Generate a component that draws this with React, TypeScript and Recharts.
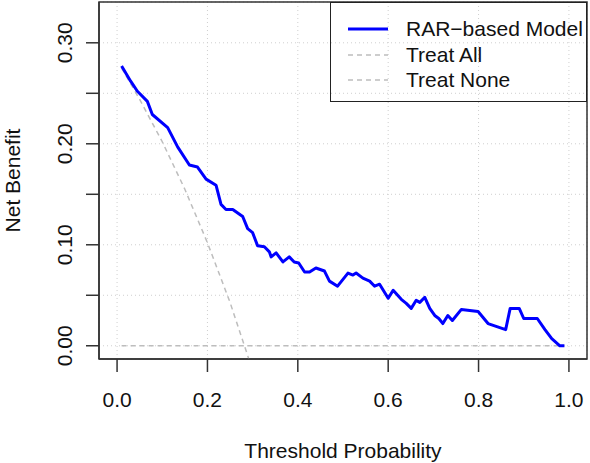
import React from 'react';
import { LineChart, Line, XAxis, YAxis, CartesianGrid, ReferenceArea, Label } from 'recharts';

// decision curve: RAR-based model vs. reference strategies
const modelThreshold = [
  0.01, 0.03, 0.045, 0.067, 0.078, 0.112, 0.134, 0.16, 0.178, 0.197, 0.219, 0.23, 0.241,
  0.256, 0.278, 0.289, 0.3, 0.311, 0.326, 0.337, 0.341, 0.352, 0.367, 0.381, 0.392, 0.402,
  0.415, 0.426, 0.44, 0.459, 0.47, 0.488, 0.511, 0.522, 0.529, 0.544, 0.559, 0.57, 0.581,
  0.6, 0.611, 0.629, 0.64, 0.651, 0.662, 0.67, 0.681, 0.692, 0.703, 0.712, 0.721, 0.732,
  0.742, 0.762, 0.799, 0.821, 0.86, 0.87, 0.89, 0.9, 0.93, 0.947, 0.962, 0.98, 0.99,
];
const modelNetBenefit = [
  0.277, 0.262, 0.252, 0.242, 0.229, 0.216, 0.197, 0.179, 0.177, 0.165, 0.159, 0.14, 0.135,
  0.135, 0.128, 0.116, 0.112, 0.099, 0.098, 0.093, 0.088, 0.092, 0.083, 0.088, 0.083, 0.082,
  0.073, 0.073, 0.077, 0.074, 0.064, 0.059, 0.072, 0.07, 0.072, 0.067, 0.064, 0.059, 0.061,
  0.047, 0.055, 0.046, 0.042, 0.037, 0.045, 0.043, 0.048, 0.037, 0.03, 0.027, 0.022, 0.03,
  0.025, 0.036, 0.034, 0.022, 0.016, 0.037, 0.037, 0.027, 0.027, 0.016, 0.007, 0.0, 0.0,
];
const treatAllThreshold = [0.01, 0.05, 0.1, 0.15, 0.2, 0.25, 0.29, 0.3];
const treatAllNetBenefit = [0.275, 0.244, 0.202, 0.155, 0.102, 0.043, -0.011, -0.026];
const treatNoneThreshold = [0.01, 0.99];
const treatNoneNetBenefit = [0, 0];

const xTicks = [0, 0.2, 0.4, 0.6, 0.8, 1.0];
const yTicks = [0, 0.05, 0.1, 0.15, 0.2, 0.25, 0.3];
const yLabelled = [0, 0.1, 0.2, 0.3];

const X_DOMAIN = [-0.04, 1.04];
const Y_DOMAIN = [-0.0131, 0.3404];

const FONT = '"Liberation Sans", Arial, Helvetica, sans-serif';
const INK = '#111';
const GREY = '#bdbdbd';

const toPoints = (xs: number[], ys: number[]) => xs.map((x, i) => ({ x, y: ys[i] }));

const modelData = toPoints(modelThreshold, modelNetBenefit);
const treatAllData = toPoints(treatAllThreshold, treatAllNetBenefit);
const treatNoneData = toPoints(treatNoneThreshold, treatNoneNetBenefit);

const legendItems = [
  { name: 'RAR\u2212based Model', color: '#0000ff', width: 3, dash: undefined as string | undefined },
  { name: 'Treat All', color: GREY, width: 1.5, dash: '5 4' },
  { name: 'Treat None', color: GREY, width: 1.5, dash: '5 4' },
];

// R-style rotated y tick labels, only every other tick carries text
const YTick = (props: any) => {
  const { x, y, payload } = props;
  const show = yLabelled.some((v) => Math.abs(v - payload.value) < 1e-9);
  if (!show) return <g />;
  return (
    <text
      x={x}
      y={y}
      transform={`rotate(-90, ${x}, ${y})`}
      textAnchor="middle"
      fontSize={21}
      fill={INK}
    >
      {payload.value.toFixed(2)}
    </text>
  );
};

const YTitle = (props: any) => {
  const { viewBox } = props;
  const cx = viewBox.x + 20;
  const cy = viewBox.y + viewBox.height / 2;
  return (
    <text
      x={cx}
      y={cy}
      transform={`rotate(-90, ${cx}, ${cy})`}
      textAnchor="middle"
      fontSize={21}
      fill={INK}
    >
      Net Benefit
    </text>
  );
};

const LegendBox = () => (
  <div
    style={{
      position: 'absolute',
      left: 330,
      top: 2,
      width: 257,
      height: 100,
      border: '1.4px solid #222',
      boxSizing: 'border-box',
      fontFamily: FONT,
      fontSize: 21,
      color: INK,
    }}
  >
    {legendItems.map((item, i) => (
      <div
        key={item.name}
        style={{
          position: 'absolute',
          top: 26 + i * 25.5 - 12,
          left: 0,
          height: 24,
          display: 'flex',
          alignItems: 'center',
          whiteSpace: 'nowrap',
        }}
      >
        <svg width={40} height={6} style={{ marginLeft: 17 }}>
          <line
            x1={0}
            y1={3}
            x2={40}
            y2={3}
            stroke={item.color}
            strokeWidth={item.width}
            strokeDasharray={item.dash}
          />
        </svg>
        <span style={{ marginLeft: 18, lineHeight: '24px' }}>{item.name}</span>
      </div>
    ))}
  </div>
);

export default function App() {
  return (
    <div
      style={{
        position: 'absolute',
        left: 0,
        top: 0,
        width: 590,
        height: 463,
        background: '#fff',
        fontFamily: FONT,
        overflow: 'hidden',
      }}
    >
      <LineChart width={590} height={463} margin={{ top: 2, right: 3, bottom: 0, left: 0 }}>
        <CartesianGrid stroke="#cfcfcf" strokeDasharray="1 3" />
        <XAxis
          type="number"
          dataKey="x"
          domain={X_DOMAIN}
          ticks={xTicks}
          interval={0}
          allowDataOverflow
          height={104}
          tickSize={13}
          tickMargin={20}
          tickFormatter={(v: number) => v.toFixed(1)}
          tick={{ fontSize: 21, fill: INK }}
          axisLine={{ stroke: '#333', strokeWidth: 1.5 }}
          tickLine={{ stroke: '#333', strokeWidth: 1.5 }}
        >
          <Label
            value="Threshold Probability"
            position="insideBottom"
            offset={5}
            style={{ fontSize: 21, fill: INK }}
          />
        </XAxis>
        <YAxis
          type="number"
          dataKey="y"
          domain={Y_DOMAIN}
          ticks={yTicks}
          interval={0}
          allowDataOverflow
          width={99}
          tickSize={13}
          tickMargin={14}
          tick={YTick}
          axisLine={{ stroke: '#333', strokeWidth: 1.5 }}
          tickLine={{ stroke: '#333', strokeWidth: 1.5 }}
        >
          <Label content={(p: any) => <YTitle {...p} />} />
        </YAxis>
        <ReferenceArea
          x1={X_DOMAIN[0]}
          x2={X_DOMAIN[1]}
          y1={Y_DOMAIN[0]}
          y2={Y_DOMAIN[1]}
          fill="none"
          stroke="#333"
          strokeWidth={1.5}
          ifOverflow="visible"
        />
        <Line
          data={treatAllData}
          dataKey="y"
          type="linear"
          stroke={GREY}
          strokeWidth={1.5}
          strokeDasharray="5 4"
          dot={false}
          isAnimationActive={false}
        />
        <Line
          data={treatNoneData}
          dataKey="y"
          type="linear"
          stroke={GREY}
          strokeWidth={1.5}
          strokeDasharray="5 4"
          dot={false}
          isAnimationActive={false}
        />
        <Line
          data={modelData}
          dataKey="y"
          type="linear"
          stroke="#0000ff"
          strokeWidth={3}
          strokeLinejoin="round"
          dot={false}
          isAnimationActive={false}
        />
      </LineChart>
      <LegendBox />
    </div>
  );
}
